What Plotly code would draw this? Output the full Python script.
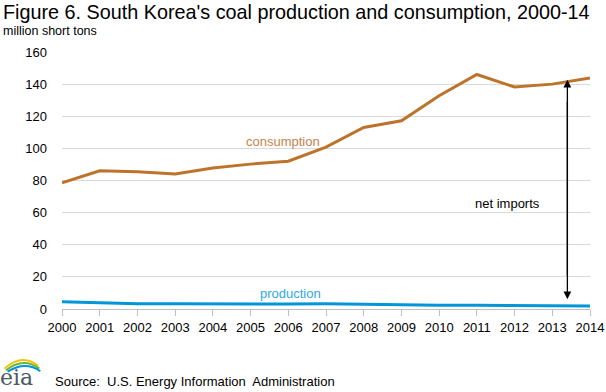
import plotly.graph_objects as go

years = list(range(2000, 2015))
consumption = [78.6, 86.0, 85.4, 84.0, 87.8, 90.2, 92.0, 100.8, 113.0, 117.2, 132.8, 146.0, 138.2, 140.0, 143.8]
production = [4.5, 3.8, 3.3, 3.3, 3.2, 2.8, 3.1, 3.2, 2.8, 2.8, 2.3, 2.3, 2.3, 2.0, 1.9]
y_ticks = [0, 20, 40, 60, 80, 100, 120, 140, 160]

BROWN = "#BD732A"
BLUE = "#0096D7"
FONT = "Liberation Sans, Arial, sans-serif"

fig = go.Figure()
fig.add_trace(go.Scatter(x=years, y=consumption, mode="lines",
                         line=dict(color=BROWN, width=3), hoverinfo="skip"))
fig.add_trace(go.Scatter(x=years, y=production, mode="lines",
                         line=dict(color=BLUE, width=3), hoverinfo="skip"))

# net imports double arrow
arrow_x = 2013.4
fig.add_annotation(x=arrow_x, y=142.8, ax=arrow_x, ay=20, xref="x", yref="y",
                   axref="x", ayref="y", showarrow=True, arrowhead=2, arrowsize=1.2,
                   arrowwidth=1.3, arrowcolor="black", text="")
fig.add_annotation(x=arrow_x, y=6, ax=arrow_x, ay=130, xref="x", yref="y",
                   axref="x", ayref="y", showarrow=True, arrowhead=2, arrowsize=1.2,
                   arrowwidth=1.3, arrowcolor="black", text="")
fig.add_annotation(x=2011.8, y=65.5, text="net imports", showarrow=False,
                   font=dict(size=13, color="black", family=FONT))
fig.add_annotation(x=2005.86, y=104.5, text="consumption", showarrow=False,
                   font=dict(size=13, color="#C8824A", family=FONT))
fig.add_annotation(x=2006.05, y=9.8, text="production", showarrow=False,
                   font=dict(size=13, color="#30A8E0", family=FONT))

# titles
fig.add_annotation(x=0, y=1, xref="paper", yref="paper", xanchor="left", yanchor="top",
                   text="Figure 6. South Korea's coal production and consumption, 2000-14",
                   showarrow=False, font=dict(size=19.8, color="black", family=FONT),
                   xshift=-61, yshift=53)
fig.add_annotation(x=0, y=1, xref="paper", yref="paper", xanchor="left", yanchor="top",
                   text="million short tons", showarrow=False,
                   font=dict(size=12.5, color="black", family=FONT),
                   xshift=-61, yshift=30)
fig.add_annotation(x=0, y=0, xref="paper", yref="paper", xanchor="left", yanchor="top",
                   text="Source:  U.S. Energy Information  Administration", showarrow=False,
                   font=dict(size=13, color="black", family=FONT),
                   xshift=-9, yshift=-63)
# eia logo
fig.add_annotation(x=0, y=0, xref="paper", yref="paper", xanchor="left", yanchor="top",
                   text="eia", showarrow=False,
                   font=dict(size=22, color="#4A5A66", family="DejaVu Serif, serif"),
                   xshift=-64, yshift=-54)
fig.add_shape(type="path", xref="paper", yref="paper",
              path="M -0.109 -0.232 Q -0.075 -0.17 -0.045 -0.222",
              line=dict(color="#F2C400", width=2))
fig.add_shape(type="path", xref="paper", yref="paper",
              path="M -0.106 -0.238 Q -0.073 -0.185 -0.043 -0.232",
              line=dict(color="#6DB33F", width=2))
fig.add_shape(type="path", xref="paper", yref="paper",
              path="M -0.103 -0.244 Q -0.07 -0.2 -0.041 -0.242",
              line=dict(color="#0096D7", width=2))

fig.update_layout(
    width=606, height=392,
    margin=dict(l=62, r=16, t=52, b=83, autoexpand=False),
    paper_bgcolor="white", plot_bgcolor="white",
    showlegend=False,
    font=dict(family=FONT, size=13, color="black"),
    xaxis=dict(range=[2000, 2014], tickvals=years, ticktext=[str(y) for y in years],
               showgrid=False, showline=True, linecolor="#BFBFBF", linewidth=1,
               ticks="outside", ticklen=6, tickcolor="#BFBFBF", automargin=False,
               tickfont=dict(size=13, family=FONT, color="black"), zeroline=False),
    yaxis=dict(range=[0, 160], tickvals=y_ticks, showgrid=True, gridcolor="#D9D9D9",
               gridwidth=1, zeroline=False, showline=False, ticks="", automargin=False,
               ticklabelstandoff=14,
               tickfont=dict(size=13, family=FONT, color="black")),
)

fig.write_html("out.html", config={"displayModeBar": False},
               post_script="document.body.style.margin='0';document.body.style.overflow='hidden';")
